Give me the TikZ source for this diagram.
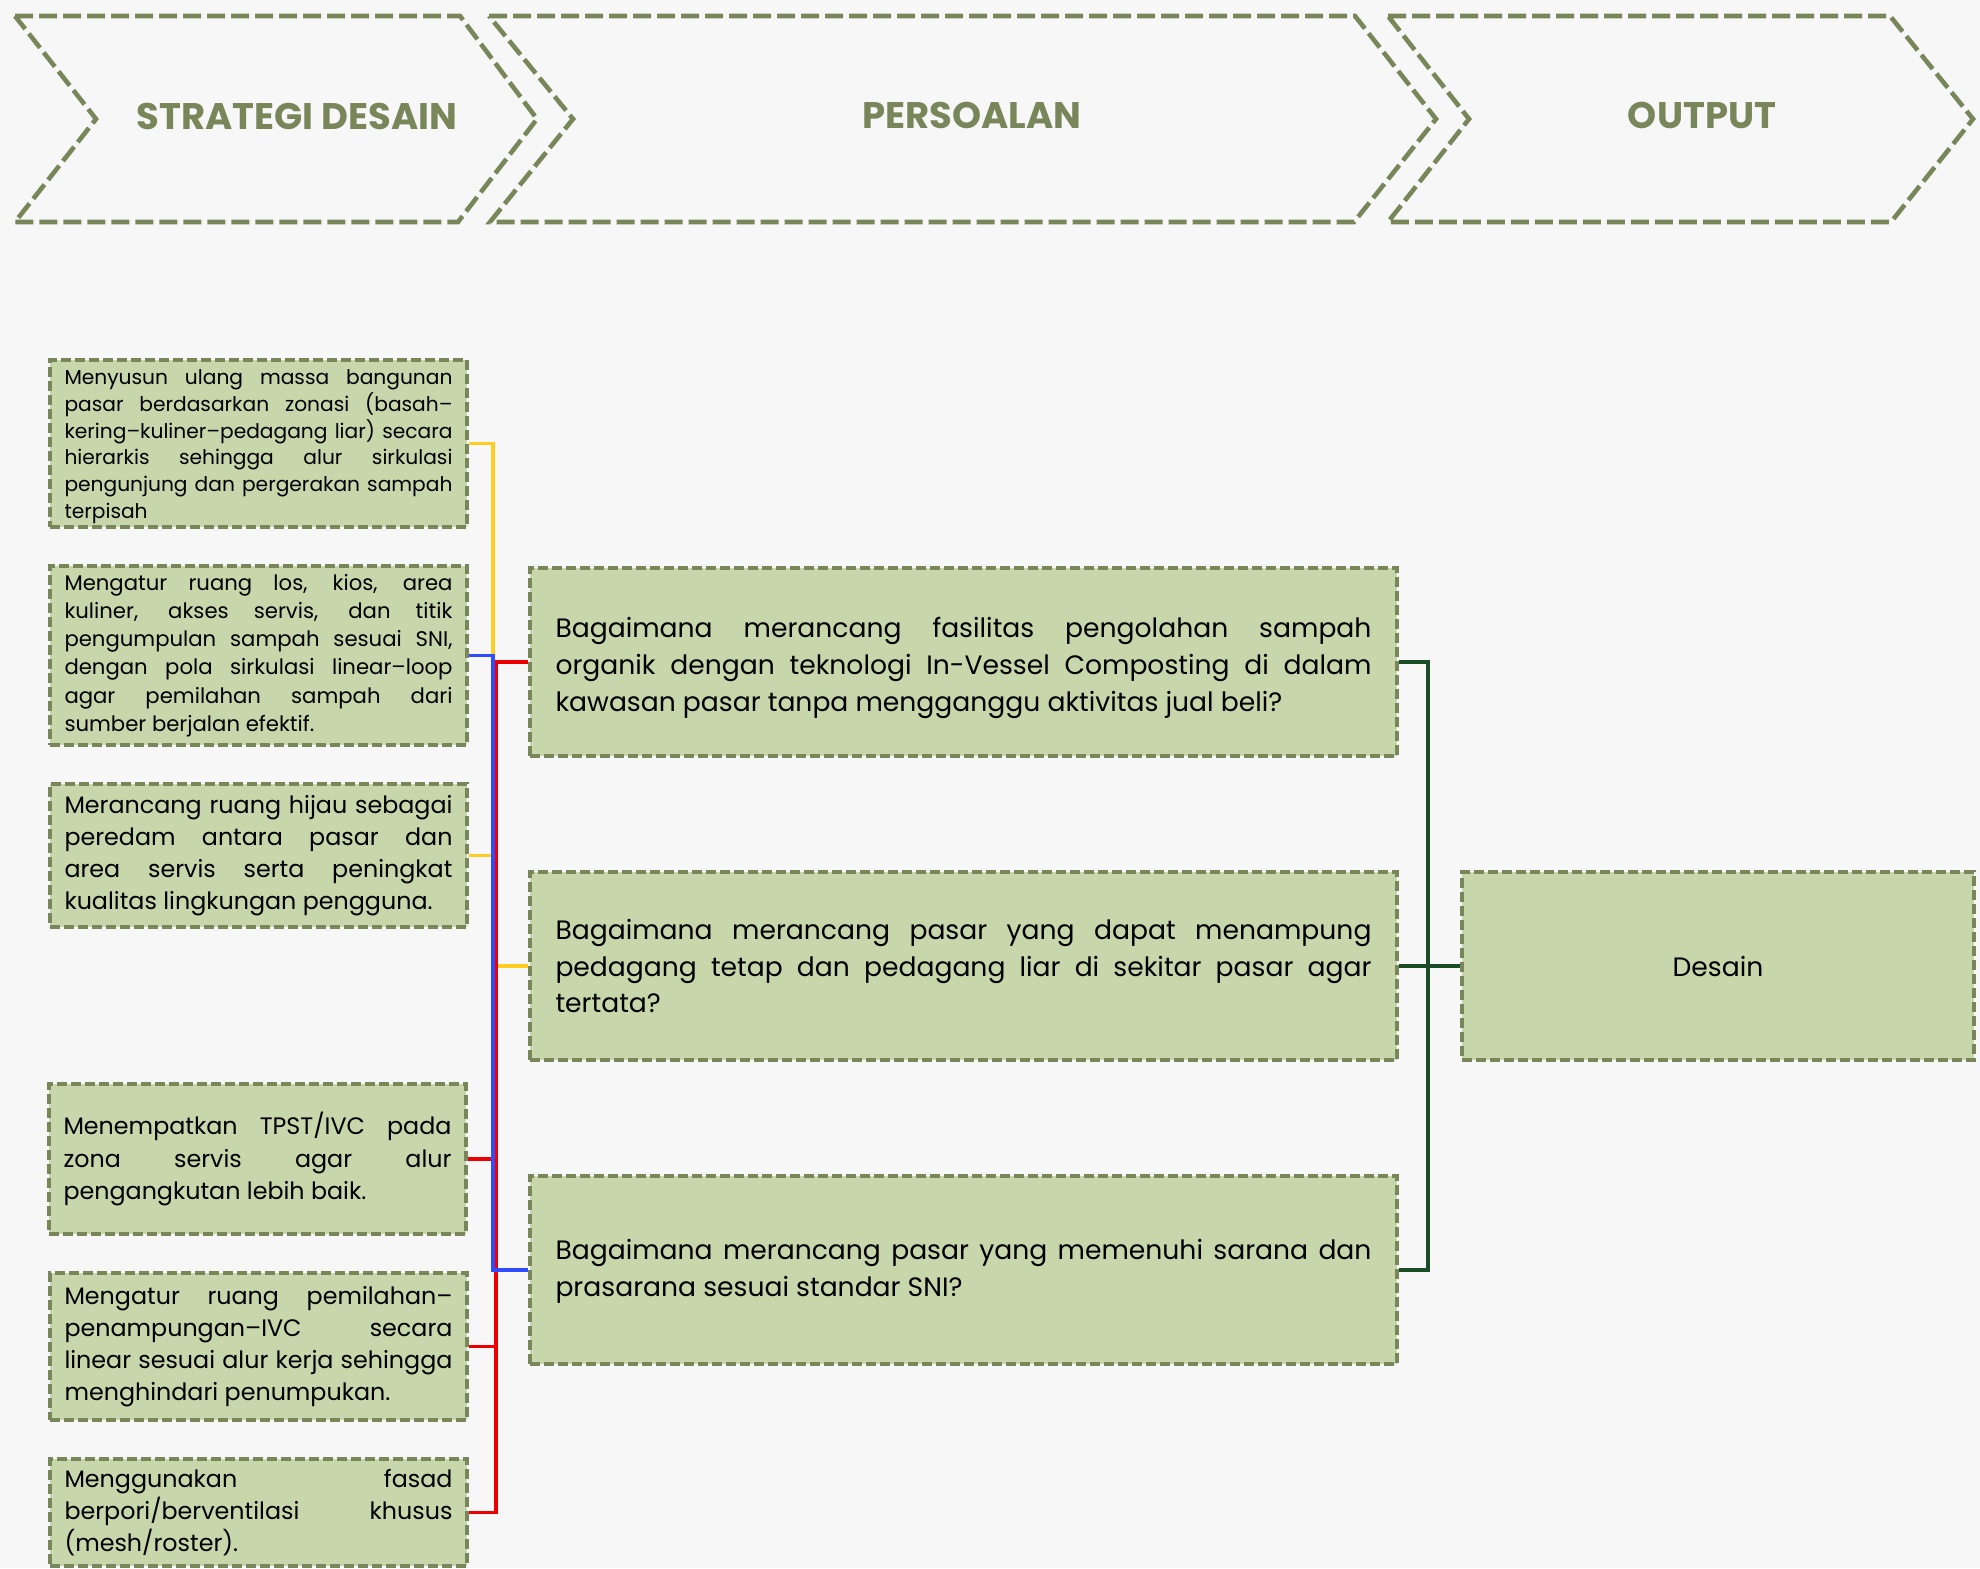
\documentclass[tikz,border=0pt]{standalone}
\usepackage{fontspec}
\setmainfont{Poppins}

\definecolor{zaitun}{RGB}{120,134,90}
\definecolor{isian}{RGB}{200,214,171}
\definecolor{latar}{RGB}{247,247,247}
\definecolor{kuning}{RGB}{255,204,34}
\definecolor{biru}{RGB}{47,77,255}
\definecolor{merah}{RGB}{238,0,0}
\definecolor{hijautua}{RGB}{26,77,38}

\setlength{\parindent}{0pt}
\tolerance=9999
\hbadness=10000
\hyphenpenalty=10000
\exhyphenpenalty=10000

% penyangga baris pertama agar teks turun sedikit
\newcommand{\turun}[1]{\rule{0pt}{\dimexpr\fontcharht\font`f+#1\relax}}

\tikzset{
  panah/.style={draw=zaitun, line width=2.3pt, dash pattern=on 9pt off 3pt},
  judul/.style={text=zaitun, inner sep=0pt, font=\bfseries\fontsize{18.5}{22}\selectfont},
  kotak/.style={draw=zaitun, fill=isian, line width=1.8pt, dash pattern=on 5pt off 2pt, inner ysep=0pt},
  strategi/.style={kotak, text width=194pt, inner xsep=7.25pt, align=justify},
  soal/.style={kotak, text width=408pt, inner xsep=12.75pt, minimum height=94pt, align=justify,
    font=\fontsize{13.3}{18.3}\selectfont},
  garis/.style={line width=1.6pt},
}

\begin{document}
\begin{tikzpicture}[x=0.5pt, y=-0.5pt]
    \useasboundingbox (0,0) rectangle (1980,1568);
    % Latar
    \fill[latar] (0,0) rectangle (1980,1568);

    % Panah judul
    \draw[panah] (15,16) -- (460,16) -- (537,119) -- (458,222) -- (15,222) -- (96,119) -- cycle;
    \draw[panah] (489,16) -- (1355,16) -- (1436,119) -- (1354,222) -- (490,222) -- (573,119) -- cycle;
    \draw[panah] (1388,16) -- (1890,16) -- (1973,119) -- (1891,222) -- (1388,222) -- (1469,119) -- cycle;
    \node[judul] (jStrategi) at (297,116) {STRATEGI DESAIN};
    \node[judul] (jPersoalan) at (972,115) {PERSOALAN};
    \node[judul] (jOutput) at (1702,115) {OUTPUT};

    % Kotak strategi desain
    \node[strategi, minimum height=83.5pt, font=\fontsize{10.1}{13.4}\selectfont] (s1) at (258.5,443.5)
        {\turun{3pt}Menyusun ulang massa bangunan\linebreak
         pasar berdasarkan zonasi (basah–\linebreak
         kering–kuliner–pedagang liar) secara\linebreak
         hierarkis sehingga alur sirkulasi\linebreak
         pengunjung dan pergerakan sampah\linebreak
         terpisah};
    \node[strategi, minimum height=89.5pt, font=\fontsize{10.6}{14.15}\selectfont] (s2) at (258.5,655.5)
        {Mengatur ruang los, kios, area\linebreak
         kuliner, akses servis, dan titik\linebreak
         pengumpulan sampah sesuai SNI,\linebreak
         dengan pola sirkulasi linear–loop\linebreak
         agar pemilahan sampah dari\linebreak
         sumber berjalan efektif.};
    \node[strategi, minimum height=71.5pt, font=\fontsize{11.9}{16.1}\selectfont] (s3) at (258.5,855.5)
        {Merancang ruang hijau sebagai\linebreak
         peredam antara pasar dan\linebreak
         area servis serta peningkat\linebreak
         kualitas lingkungan pengguna.};
    \node[strategi, minimum height=75pt, font=\fontsize{11.9}{16.1}\selectfont] (s4) at (257.5,1159)
        {Menempatkan TPST/IVC pada\linebreak
         zona servis agar alur\linebreak
         pengangkutan lebih baik.};
    \node[strategi, minimum height=73.5pt, font=\fontsize{11.9}{16.1}\selectfont] (s5) at (258.5,1346.5)
        {Mengatur ruang pemilahan–\linebreak
         penampungan–IVC secara\linebreak
         linear sesuai alur kerja sehingga\linebreak
         menghindari penumpukan.};
    \node[strategi, minimum height=53.5pt, font=\fontsize{11.9}{16.1}\selectfont] (s6) at (258.5,1512.5)
        {Menggunakan fasad\linebreak
         berpori/berventilasi khusus\linebreak
         (mesh/roster).};

    % Kotak persoalan
    \node[soal] (q1) at (963.5,662)
        {\turun{6pt}Bagaimana merancang fasilitas pengolahan sampah\linebreak
         organik dengan teknologi In-Vessel Composting di dalam\linebreak
         kawasan pasar tanpa mengganggu aktivitas jual beli?};
    \node[soal] (q2) at (963.5,966)
        {Bagaimana merancang pasar yang dapat menampung\linebreak
         pedagang tetap dan pedagang liar di sekitar pasar agar\linebreak
         tertata?};
    \node[soal] (q3) at (963.5,1270)
        {\turun{1.5pt}Bagaimana merancang pasar yang memenuhi sarana dan\linebreak
         prasarana sesuai standar SNI?};

    % Kotak output
    \node[kotak, minimum width=256pt, minimum height=94pt, font=\fontsize{13.3}{18}\selectfont] (desain) at (1718,966) {Desain};

    % Garis penghubung
    \coordinate (busKiri) at (493,0);
    \coordinate (busMerah) at (496,0);
    \coordinate (busKanan) at (1428,0);
    \foreach \s in {s1,s3}
        \draw[garis, kuning] (\s.east) -- (\s.east -| busKiri) |- (q2.west);
    \foreach \s in {s4,s5,s6}
        \draw[garis, merah] (\s.east) -- (\s.east -| busMerah) |- (q1.west);
    \draw[garis, biru] (s2.east) -- (s2.east -| busKiri) |- (q3.west);
    \draw[garis, hijautua, line width=1.7pt] (q1.east) -- (q1.east -| busKanan) |- (q3.east);
    \draw[garis, hijautua, line width=1.7pt] (q2.east) -- (desain.west);
\end{tikzpicture}
\end{document}
